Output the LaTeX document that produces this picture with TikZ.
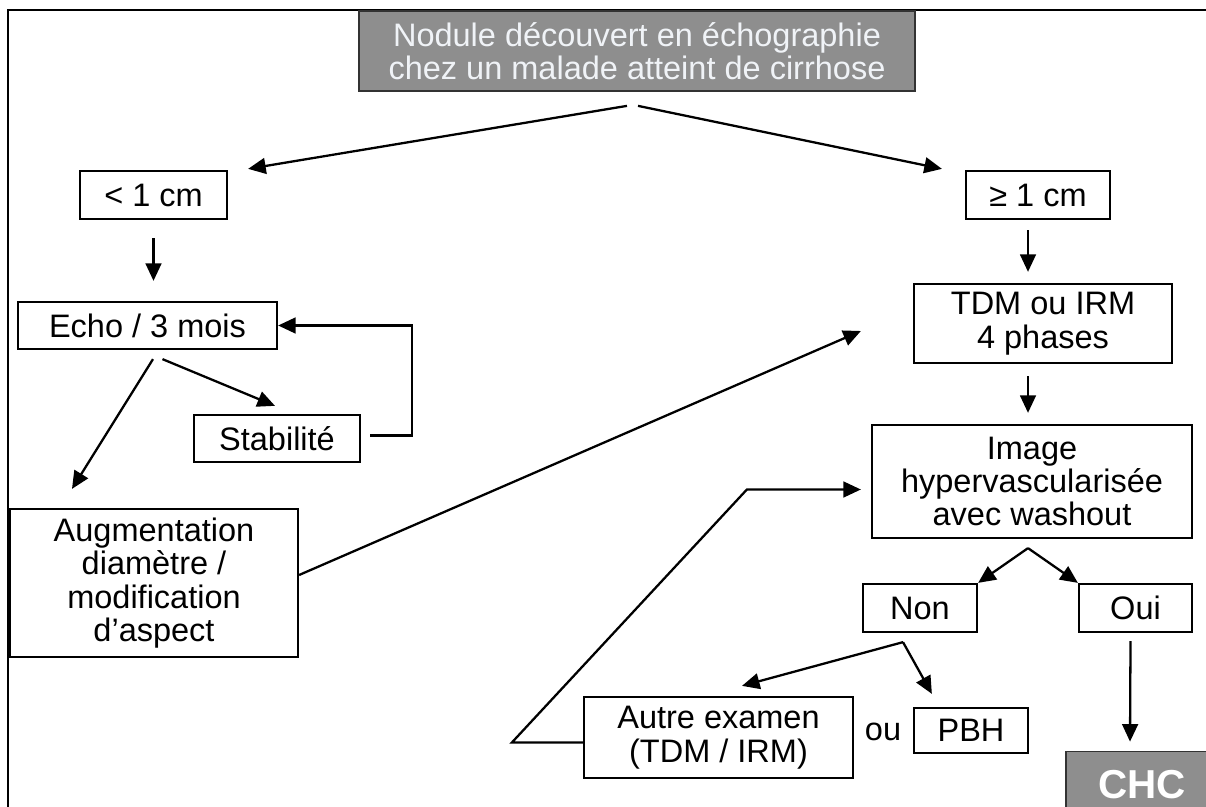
\documentclass[tikz,border=0pt]{standalone}
\usepackage{fontspec}
\setmainfont{Liberation Sans}
\usetikzlibrary{arrows.meta,calc,positioning}
\definecolor{boxgray}{RGB}{142,142,142}
\definecolor{paletext}{RGB}{240,243,247}

\begin{document}
\begin{tikzpicture}[x=0.02cm, y=-0.02cm,
    every node/.style={font=\fontsize{18.5}{19}\selectfont},
    box/.style={draw, line width=1.3pt, align=center, inner sep=0pt},
    graybox/.style={draw=black!80, line width=1pt, fill=boxgray, text=paletext, align=center, inner sep=0pt},
    arr/.style={line width=1.3pt, -{Triangle[length=10pt,width=9pt]}}]
    \useasboundingbox (0,0) rectangle (1206,807);
    % Frame
    \draw[line width=1.3pt] (8,807) -- (8,10) -- (1206,10);

    % Top
    \node[graybox, minimum width=11.12cm, minimum height=1.6cm] (nodule) at (637,51) {Nodule découvert en échographie\\chez un malade atteint de cirrhose};

    % Left branch
    \node[box, minimum width=2.94cm, minimum height=0.96cm] (small) at (153.5,195) {< 1 cm};
    \node[box, minimum width=5.18cm, minimum height=0.94cm] (echo) at (147.5,325.5) {Echo / 3 mois};
    \node[box, minimum width=3.32cm, minimum height=0.94cm] (stab) at (277,438.5) {Stabilité};
    \node[box, minimum width=5.76cm, minimum height=2.96cm] (augm) at (154,583) {Augmentation\\diamètre /\\modification\\d’aspect};

    % Right branch
    \node[box, minimum width=2.88cm, minimum height=0.96cm] (large) at (1038,195) {≥ 1 cm};
    \node[box, minimum width=5.16cm, minimum height=1.58cm] (tdm) at (1043,323.5) {TDM ou IRM\\4 phases};
    \node[box, minimum width=6.4cm, minimum height=2.26cm] (hyper) at (1032,481.5) {Image\\hypervascularisée\\avec washout};
    \node[box, minimum width=2.28cm, minimum height=0.96cm] (non) at (920,608) {Non};
    \node[box, minimum width=2.26cm, minimum height=0.96cm] (oui) at (1135.5,608) {Oui};
    \node[box, minimum width=5.38cm, minimum height=1.62cm] (autre) at (718.5,737.5) {Autre examen\\(TDM / IRM)};
    \node[box, minimum width=2.28cm, minimum height=0.9cm] (pbh) at (971,730.5) {PBH};
    \node (ou) at (883,732) {ou};
    \node[graybox, text=white, minimum width=3.04cm, minimum height=1.34cm, font=\fontsize{23}{25}\selectfont\bfseries] (chc) at (1142,785) {CHC};

    % First split
    \draw[arr] ($(nodule.south)+(-10,14)$) -- ($(small.north east)+(20,-1)$);
    \draw[arr] ($(nodule.south)+(1,14)$) -- ($(large.north west)+(-23,-1)$);

    % Left arrows
    \draw[arr, shorten <=0.36cm, shorten >=0.4cm] (small.south) -- (small.south |- echo.north);
    \draw[arr] ($(echo.south)+(15,9)$) -- ($(stab.north)+(-2,-8)$);
    \draw[arr] ($(echo.south)+(5.5,9)$) -- ($(augm.north)+(-82,-19)$);
    \draw[arr] ($(stab.east)+(9,-3)$) -- ++(42,0) |- (echo.east);

    % Right arrows
    \draw[arr] ($(large.south)+(-10,10)$) -- ($(tdm.north)+(-15,-11)$);
    \draw[arr] ($(tdm.south)+(-15,12)$) -- ($(hyper.north)+(-4,-11)$);
    \draw[arr] ($(hyper.south)+(-4,9)$) -- (non.north east);
    \draw[arr] ($(hyper.south)+(-4,9)$) -- (oui.north west);
    \draw[arr] ($(non.south)+(-17,9)$) -- ($(autre.north)+(23.5,-10)$);
    \draw[arr] ($(non.south)+(-17,9)$) -- ($(pbh.north west)+(19,-13)$);
    \draw[arr] ($(oui.south)+(-5,8)$) -- ($(chc.north)+(-12,-9)$);

    % Back links
    \draw[arr] ($(augm.east)+(0,-8)$) -- ($(tdm.west)+(-52,7.5)$);
    \draw[arr] ($(autre.west)+(0,5)$) -- ++(-71,0) -- ($(hyper.west)+(-124,8)$) -- ($(hyper.west)+(-10,8)$);
\end{tikzpicture}
\end{document}
